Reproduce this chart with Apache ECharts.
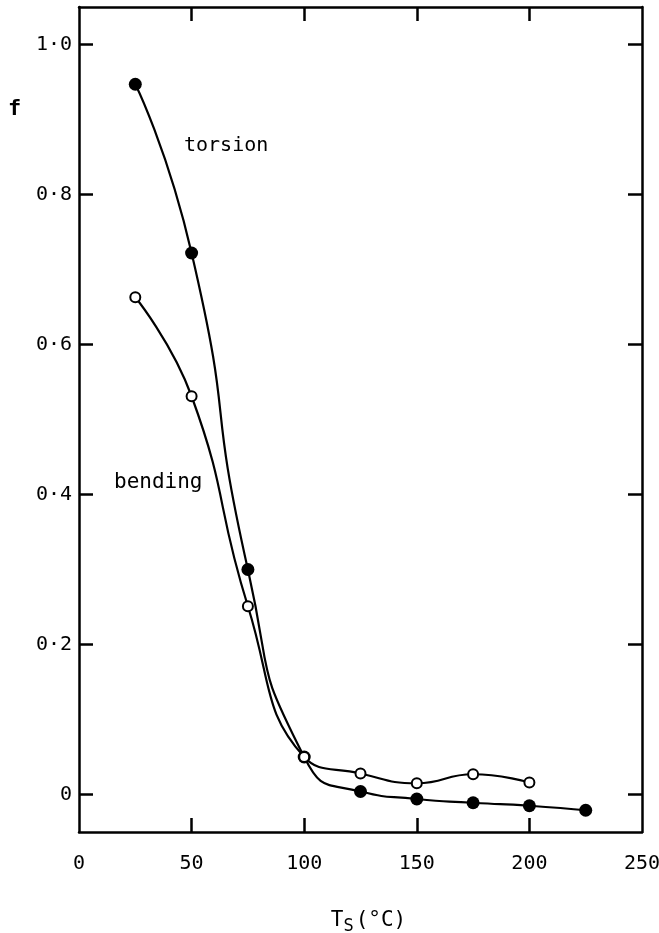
<!DOCTYPE html>
<html>
<head>
<meta charset="utf-8">
<script src="https://cdn.jsdelivr.net/npm/echarts@6/dist/echarts.min.js"></script>
<style>
  html, body { margin: 0; padding: 0; background: #fff; }
  #chart { width: 659px; height: 933px; }
</style>
</head>
<body>
<div id="chart"></div>
<script>
// Substrate temperature (°C)
const temps = [25, 50, 75, 100, 125, 150, 175, 200, 225];
// f measured in torsion (filled circles)
const torsion = [0.947, 0.722, 0.300, 0.050, 0.004, -0.006, -0.011, -0.015, -0.021];
// f measured in bending (open circles)
const bendingTemps = [25, 50, 75, 100, 125, 150, 175, 200];
const bending = [0.663, 0.531, 0.251, 0.050, 0.028, 0.015, 0.027, 0.016];

const yTicks = [0, 0.2, 0.4, 0.6, 0.8, 1.0];
const yTickLabels = ['0', '0·2', '0·4', '0·6', '0·8', '1·0'];
const xTicks = [0, 50, 100, 150, 200, 250];

const FONT = '"DejaVu Sans Mono", "DejaVu Sans", monospace';
const INK = '#000';

const pair = (xs, ys) => xs.map((x, i) => [x, ys[i]]);

const chart = echarts.init(document.getElementById('chart'), null, { renderer: 'canvas' });

const frameLine = { show: true, onZero: false, lineStyle: { color: INK, width: 2.5 } };
const tickStyle = { show: true, inside: true, length: 14, lineStyle: { color: INK, width: 2.5 } };

chart.setOption({
  backgroundColor: '#fff',
  animation: false,
  grid: { left: 79, right: 17, top: 7, bottom: 101, containLabel: false, outerBoundsMode: 'none' },
  xAxis: [
    {
      type: 'value', min: 0, max: 250, interval: 50, position: 'bottom',
      axisLine: frameLine,
      axisTick: Object.assign({}, tickStyle, { customValues: xTicks.slice(1, -1) }),
      axisLabel: { customValues: xTicks, color: INK, fontFamily: FONT, fontSize: 20, margin: 22 },
      splitLine: { show: false },
      name: '{t|T}{s|S}{t|(°C)}',
      nameLocation: 'middle', nameGap: 74,
      nameTextStyle: {
        padding: [0, 0, 0, 16],
        rich: {
          t: { fontFamily: FONT, fontSize: 21, color: INK },
          s: { fontFamily: FONT, fontSize: 17, color: INK, verticalAlign: 'bottom', padding: [12, 2, 0, 0] }
        }
      }
    },
    {
      type: 'value', min: 0, max: 250, interval: 50, position: 'top',
      axisLine: frameLine,
      axisTick: Object.assign({}, tickStyle, { customValues: xTicks.slice(1, -1) }),
      axisLabel: { show: false },
      splitLine: { show: false }
    }
  ],
  yAxis: [
    {
      type: 'value', min: -0.05, max: 1.05, position: 'left',
      axisLine: frameLine,
      axisTick: Object.assign({}, tickStyle, { customValues: yTicks }),
      axisLabel: {
        customValues: yTicks, color: INK, fontFamily: FONT, fontSize: 20, margin: 7,
        formatter: v => yTickLabels[yTicks.findIndex(t => Math.abs(t - v) < 1e-9)] ?? ''
      },
      splitLine: { show: false }
    },
    {
      type: 'value', min: -0.05, max: 1.05, position: 'right',
      axisLine: frameLine,
      axisTick: Object.assign({}, tickStyle, { customValues: yTicks }),
      axisLabel: { show: false },
      splitLine: { show: false }
    }
  ],
  series: [
    {
      name: 'torsion', type: 'line', data: pair(temps, torsion),
      smooth: 0.6,
      symbol: 'circle', symbolSize: 13,
      itemStyle: { color: INK, borderColor: INK, borderWidth: 0 },
      lineStyle: { color: INK, width: 2.2 },
      z: 2
    },
    {
      name: 'bending', type: 'line', data: pair(bendingTemps, bending),
      smooth: 0.5,
      symbol: 'circle', symbolSize: 10,
      itemStyle: { color: '#fff', borderColor: INK, borderWidth: 2 },
      lineStyle: { color: INK, width: 2.2 },
      z: 3
    }
  ],
  graphic: [
    { type: 'text', left: 8, top: 98,
      style: { text: 'f', font: 'bold 22px ' + FONT, fill: INK } },
    { type: 'text', left: 184, top: 136,
      style: { text: 'torsion', font: '20px ' + FONT, fill: INK } },
    { type: 'text', left: 114, top: 472,
      style: { text: 'bending', font: '21px ' + FONT, fill: INK } }
  ]
});
</script>
</body>
</html>
